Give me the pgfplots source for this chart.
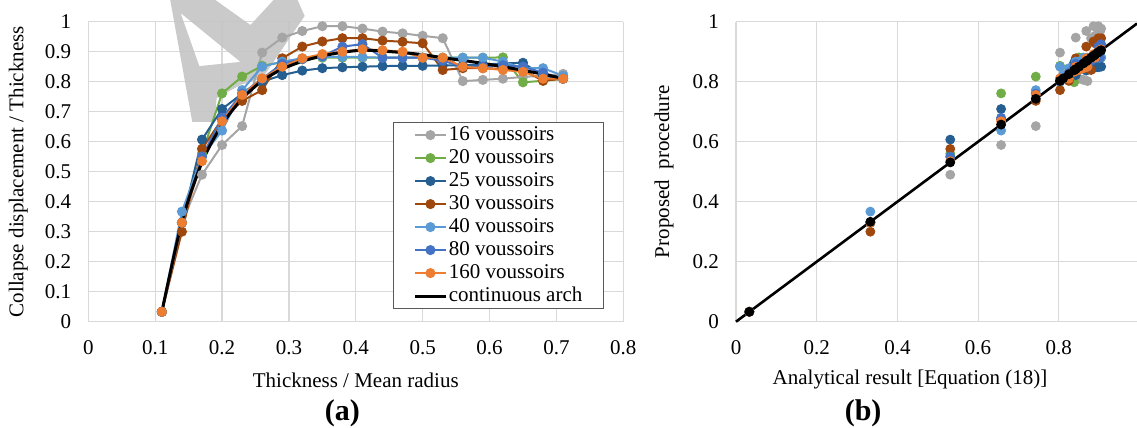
\documentclass[border=0pt]{standalone}
\usepackage{fontspec}
\setmainfont{Liberation Serif}
\usepackage{pgfplots}
\pgfplotsset{compat=1.18}
\usepackage{pgfplotstable}

\definecolor{c16}{HTML}{A5A5A5}
\definecolor{c20}{HTML}{70AD47}
\definecolor{c25}{HTML}{255E91}
\definecolor{c30}{HTML}{9E480E}
\definecolor{c40}{HTML}{5B9BD5}
\definecolor{c80}{HTML}{4472C4}
\definecolor{c160}{HTML}{ED7D31}
\definecolor{gridc}{HTML}{D9D9D9}
\definecolor{legc}{HTML}{595959}
\definecolor{wm}{HTML}{C4C4C4}

\pgfplotstableread{
t    s16   s20   s25   s30   s40   s80   s160  cont
0.11 0.033 0.033 0.033 0.033 0.033 0.033 0.033 0.033
0.14 0.330 0.330 0.330 0.300 0.367 0.330 0.330 0.333
0.17 0.490 0.560 0.607 0.576 0.550 0.550 0.535 0.531
0.20 0.589 0.761 0.709 0.675 0.637 0.680 0.668 0.657
0.23 0.652 0.817 0.760 0.736 0.772 0.760 0.756 0.743
0.26 0.897 0.853 0.800 0.772 0.850 0.810 0.811 0.803
0.29 0.947 0.865 0.822 0.878 0.867 0.860 0.850 0.842
0.32 0.969 0.875 0.837 0.917 0.878 0.875 0.878 0.868
0.35 0.985 0.880 0.845 0.934 0.883 0.885 0.892 0.886
0.38 0.985 0.880 0.848 0.945 0.883 0.917 0.900 0.898
0.41 0.977 0.880 0.850 0.945 0.882 0.925 0.908 0.905
0.44 0.967 0.880 0.852 0.937 0.880 0.880 0.905 0.902
0.47 0.961 0.880 0.853 0.933 0.880 0.880 0.900 0.897
0.50 0.953 0.880 0.853 0.928 0.880 0.880 0.880 0.890
0.53 0.945 0.880 0.854 0.839 0.880 0.870 0.880 0.880
0.56 0.802 0.880 0.855 0.845 0.880 0.850 0.850 0.871
0.59 0.806 0.880 0.857 0.845 0.880 0.850 0.845 0.861
0.62 0.810 0.881 0.861 0.843 0.867 0.855 0.839 0.850
0.65 0.816 0.798 0.863 0.839 0.845 0.850 0.833 0.838
0.68 0.820 0.803 0.820 0.803 0.845 0.830 0.810 0.825
0.71 0.826 0.810 0.810 0.810 0.820 0.810 0.810 0.811
}\data

\newcommand{\lblfont}{\fontsize{10.5}{12.6}\selectfont}

\pgfplotsset{
  every axis/.append style={
    scale only axis,
    font=\lblfont,
    grid=major,
    grid style={draw=gridc, line width=0.6pt},
    axis line style={draw=none},
    major tick length=0pt,
    /pgf/number format/assume math mode=true,
    tick label style={font=\lblfont},
    xticklabel style={yshift=-6pt},
    yticklabel style={xshift=-5pt},
  },
  ser/.style={color=#1, line width=1pt, mark=*, mark size=2pt,
    mark options={draw=#1, fill=#1, solid}},
  dot/.style={only marks, mark=*, mark size=2.25pt,
    mark options={draw=#1, fill=#1}},
}

\begin{document}
\begin{tikzpicture}
\begin{axis}[
  at={(0pt,0pt)}, anchor=south west,
  width=267.5pt, height=150pt,
  xmin=0, xmax=0.8, ymin=0, ymax=1,
  xtick={0,0.1,0.2,0.3,0.4,0.5,0.6,0.7,0.8},
  ytick={0,0.1,0.2,0.3,0.4,0.5,0.6,0.7,0.8,0.9,1},
  clip=false,
  xlabel={Thickness / Mean radius},
  ylabel={Collapse displacement / Thickness},
  xlabel style={at={(axis description cs:0.5,-0.194)}, anchor=center},
  ylabel style={at={(axis description cs:-0.131,0.5)}, anchor=center},
  legend cell align=left,
  legend image code/.code={\draw[#1, mark repeat=2, mark phase=2] plot coordinates {(0cm,0cm) (0.27cm,0cm) (0.54cm,0cm)};},
  legend style={at={(axis description cs:0.5695,0.6657)}, anchor=north west,
    draw=legc, line width=0.6pt, inner xsep=10pt, inner ysep=0.5pt,
    font=\lblfont, row sep=0pt,
    nodes={inner sep=0.75pt, text height=7.5pt, text depth=2.5pt}},
]
\fill[wm, fill opacity=0.9, even odd rule]
  (axis cs:0.1225,1.0723) -- (axis cs:0.190,1.0723) -- (axis cs:0.2425,0.989)
  -- (axis cs:0.277,1.0723) -- (axis cs:0.313,1.0723) -- (axis cs:0.3235,1.019)
  -- (axis cs:0.2605,0.812) -- (axis cs:0.228,0.790) -- (axis cs:0.192,0.745)
  -- (axis cs:0.1885,0.666) -- (axis cs:0.1555,0.666) -- cycle
  (axis cs:0.138,1.029) -- (axis cs:0.166,0.852) -- (axis cs:0.2275,0.866) -- cycle;
\addplot[ser=c16]  table[x=t,y=s16]  {\data}; \addlegendentry{16 voussoirs}
\addplot[ser=c20]  table[x=t,y=s20]  {\data}; \addlegendentry{20 voussoirs}
\addplot[ser=c25]  table[x=t,y=s25]  {\data}; \addlegendentry{25 voussoirs}
\addplot[ser=c30]  table[x=t,y=s30]  {\data}; \addlegendentry{30 voussoirs}
\addplot[ser=c40]  table[x=t,y=s40]  {\data}; \addlegendentry{40 voussoirs}
\addplot[ser=c80]  table[x=t,y=s80]  {\data}; \addlegendentry{80 voussoirs}
\addplot[ser=c160] table[x=t,y=s160] {\data}; \addlegendentry{160 voussoirs}
\addplot[black, line width=1.5pt, smooth, no markers] table[x=t,y=cont] {\data}; \addlegendentry{continuous arch}
\node[font=\fontsize{15}{18}\selectfont\bfseries] at (axis description cs:0.475,-0.304) {(a)};
\end{axis}

\begin{axis}[
  at={(323.85pt,0pt)}, anchor=south west,
  width=200.5pt, height=150pt,
  xmin=0, xmax=0.9938, ymin=0, ymax=1,
  xtick={0,0.2,0.4,0.6,0.8},
  ytick={0,0.2,0.4,0.6,0.8,1},
  clip=false,
  xlabel={Analytical result [Equation (18)]},
  ylabel={Proposed\ \ procedure},
  xlabel style={at={(axis description cs:0.434,-0.194)}, anchor=center},
  ylabel style={at={(axis description cs:-0.1796,0.5)}, anchor=center},
]
\addplot[dot=c16]  table[x=cont,y=s16]  {\data};
\addplot[dot=c20]  table[x=cont,y=s20]  {\data};
\addplot[dot=c25]  table[x=cont,y=s25]  {\data};
\addplot[dot=c30]  table[x=cont,y=s30]  {\data};
\addplot[dot=c40]  table[x=cont,y=s40]  {\data};
\addplot[dot=c80]  table[x=cont,y=s80]  {\data};
\addplot[dot=c160] table[x=cont,y=s160] {\data};
\addplot[black, line width=1.3pt, no markers] coordinates {(0,0) (0.9938,0.9938)};
\addplot[dot=black] table[x=cont,y=cont] {\data};
\node[font=\fontsize{15}{18}\selectfont\bfseries] at (axis description cs:0.317,-0.304) {(b)};
\end{axis}
\pgfresetboundingbox
\path[use as bounding box] (-44.15pt,-53.15pt) rectangle (524.35pt,160.85pt);
\end{tikzpicture}
\end{document}
